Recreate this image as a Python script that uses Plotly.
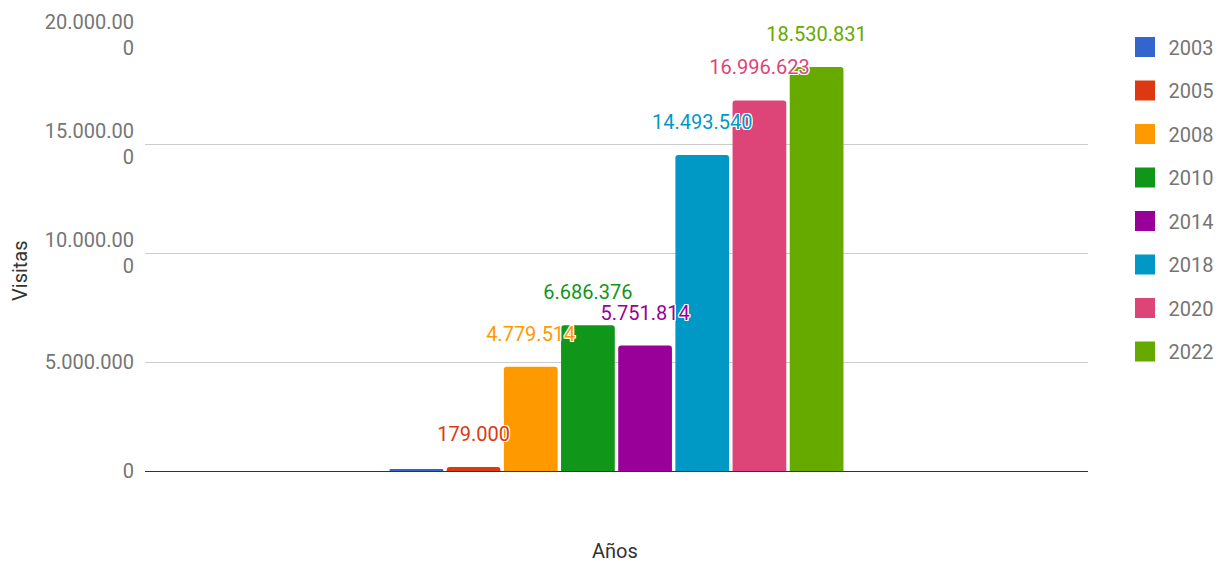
import plotly.graph_objects as go

years = ["2003", "2005", "2008", "2010", "2014", "2018", "2020", "2022"]
visits = [80000, 179000, 4779514, 6686376, 5751814, 14493540, 16996623, 18530831]
show_label = [False, True, True, True, True, True, True, True]
colors = ["#3366cc", "#dc3912", "#ff9900", "#109618", "#990099", "#0099c6", "#dd4477", "#66aa00"]
category = [""]
tick_vals = [0, 5000000, 10000000, 15000000, 20000000]
tick_text = ["0", "5.000.000", "10.000.00<br>0", "15.000.00<br>0", "20.000.00<br>0"]


def fmt(v):
    return f"{v:,}".replace(",", ".")


FONT = "Roboto, Arial, sans-serif"
outline = "-1px -1px 0 #fff, 1px -1px 0 #fff, -1px 1px 0 #fff, 1px 1px 0 #fff, 0 1px 0 #fff, 0 -1px 0 #fff, 1px 0 0 #fff, -1px 0 0 #fff"

fig = go.Figure()

for yr, v, c in zip(years, visits, colors):
    fig.add_trace(go.Bar(
        x=category, y=[v], name=yr, offsetgroup=yr,
        marker=dict(color=c, cornerradius=3, line=dict(width=0)),
        showlegend=False, hoverinfo="skip",
    ))

for yr, v, c, s in zip(years, visits, colors, show_label):
    fig.add_trace(go.Scatter(
        x=category, y=[v], mode="markers+text", text=[fmt(v) if s else ""],
        textposition="top center", offsetgroup=yr,
        marker=dict(size=32, color="rgba(0,0,0,0)"),
        textfont=dict(family=FONT, size=20, color=c, shadow=outline),
        showlegend=False, hoverinfo="skip", cliponaxis=False,
    ))

for yr, c in zip(years, colors):
    fig.add_trace(go.Scatter(
        x=[None], y=[None], mode="markers", name=yr, legendgroup=yr, offsetgroup=yr,
        marker=dict(symbol="square", size=16, color=c, line=dict(color=c, width=4)),
        hoverinfo="skip",
    ))

fig.update_layout(
    width=1222, height=563,
    margin=dict(l=145, r=134, t=35, b=92, autoexpand=False),
    paper_bgcolor="white", plot_bgcolor="white",
    font=dict(family=FONT, size=20, color="#757575"),
    barmode="group", bargap=0.515, bargroupgap=0.06,
    scattermode="group", scattergap=0.515,
    xaxis=dict(showticklabels=False, showgrid=False, zeroline=False, showline=False, fixedrange=True),
    yaxis=dict(range=[0, 20000000], tickvals=tick_vals, ticktext=tick_text,
               showgrid=True, gridcolor="#cccccc", gridwidth=1,
               zeroline=True, zerolinecolor="#333333", zerolinewidth=1,
               showline=False, ticks="", ticklabelstandoff=10,
               tickfont=dict(size=20, color="#757575")),
    legend=dict(x=1.0355, y=1.017, xanchor="left", yanchor="top", traceorder="grouped",
                tracegroupgap=14.5, itemwidth=37, maxheight=600,
                font=dict(size=20, color="#757575"), bgcolor="rgba(0,0,0,0)"),
    annotations=[
        dict(text="Visitas", xref="paper", yref="paper", x=-0.1326, y=0.461, textangle=-90,
             showarrow=False, font=dict(size=20, color="#333333"), xanchor="center", yanchor="middle"),
        dict(text="Años", xref="paper", yref="paper", x=0.498, y=-0.1835,
             showarrow=False, font=dict(size=20, color="#333333"), xanchor="center", yanchor="middle"),
    ],
)

fig.write_html("out.html")
